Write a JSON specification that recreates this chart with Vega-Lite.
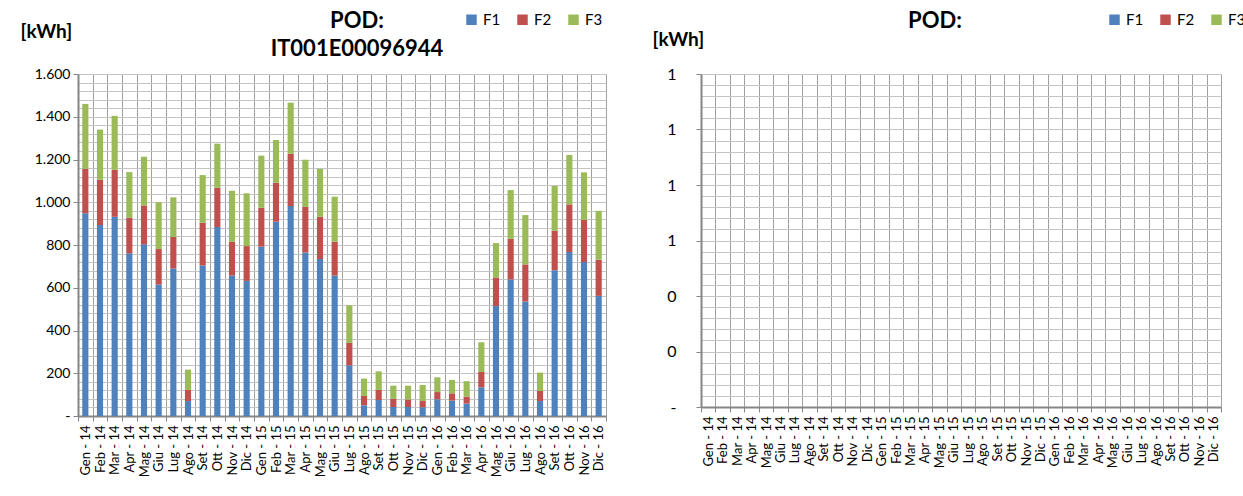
{
  "$schema": "https://vega.github.io/schema/vega-lite/v6.json",
  "background": "white",
  "padding": {"left": 20, "top": 10, "right": 0, "bottom": 0},
  "bounds": "flush",
  "spacing": 95,
  "config": {
    "font": "Lato",
    "view": {"stroke": null},
    "axis": {"labelColor": "#000000", "titleColor": "#000000"},
    "legend": {"labelColor": "#000000"}
  },
  "datasets": {
    "pod1": [
      {"mese": "Gen - 14", "F1": 948, "F2": 208, "F3": 304},
      {"mese": "Feb - 14", "F1": 893, "F2": 212, "F3": 235},
      {"mese": "Mar - 14", "F1": 932, "F2": 220, "F3": 252},
      {"mese": "Apr - 14", "F1": 761, "F2": 166, "F3": 214},
      {"mese": "Mag - 14", "F1": 803, "F2": 182, "F3": 228},
      {"mese": "Giu - 14", "F1": 615, "F2": 166, "F3": 219},
      {"mese": "Lug - 14", "F1": 690, "F2": 148, "F3": 185},
      {"mese": "Ago - 14", "F1": 70, "F2": 52, "F3": 95},
      {"mese": "Set - 14", "F1": 704, "F2": 200, "F3": 223},
      {"mese": "Ott - 14", "F1": 884, "F2": 184, "F3": 206},
      {"mese": "Nov - 14", "F1": 657, "F2": 158, "F3": 239},
      {"mese": "Dic - 14", "F1": 632, "F2": 163, "F3": 247},
      {"mese": "Gen - 15", "F1": 792, "F2": 182, "F3": 244},
      {"mese": "Feb - 15", "F1": 909, "F2": 182, "F3": 200},
      {"mese": "Mar - 15", "F1": 982, "F2": 245, "F3": 239},
      {"mese": "Apr - 15", "F1": 765, "F2": 213, "F3": 221},
      {"mese": "Mag - 15", "F1": 734, "F2": 198, "F3": 224},
      {"mese": "Giu - 15", "F1": 657, "F2": 158, "F3": 211},
      {"mese": "Lug - 15", "F1": 237, "F2": 105, "F3": 176},
      {"mese": "Ago - 15", "F1": 50, "F2": 44, "F3": 81},
      {"mese": "Set - 15", "F1": 75, "F2": 47, "F3": 87},
      {"mese": "Ott - 15", "F1": 42, "F2": 38, "F3": 62},
      {"mese": "Nov - 15", "F1": 42, "F2": 35, "F3": 65},
      {"mese": "Dic - 15", "F1": 41, "F2": 29, "F3": 75},
      {"mese": "Gen - 16", "F1": 78, "F2": 34, "F3": 69},
      {"mese": "Feb - 16", "F1": 72, "F2": 34, "F3": 63},
      {"mese": "Mar - 16", "F1": 58, "F2": 33, "F3": 72},
      {"mese": "Apr - 16", "F1": 134, "F2": 72, "F3": 139},
      {"mese": "Mag - 16", "F1": 515, "F2": 133, "F3": 161},
      {"mese": "Giu - 16", "F1": 639, "F2": 190, "F3": 228},
      {"mese": "Lug - 16", "F1": 536, "F2": 173, "F3": 231},
      {"mese": "Ago - 16", "F1": 70, "F2": 47, "F3": 86},
      {"mese": "Set - 16", "F1": 682, "F2": 185, "F3": 209},
      {"mese": "Ott - 16", "F1": 767, "F2": 223, "F3": 231},
      {"mese": "Nov - 16", "F1": 720, "F2": 198, "F3": 222},
      {"mese": "Dic - 16", "F1": 562, "F2": 169, "F3": 229}
    ],
    "pod2": [
      {"mese": "Gen - 14", "F1": 0, "F2": 0, "F3": 0},
      {"mese": "Feb - 14", "F1": 0, "F2": 0, "F3": 0},
      {"mese": "Mar - 14", "F1": 0, "F2": 0, "F3": 0},
      {"mese": "Apr - 14", "F1": 0, "F2": 0, "F3": 0},
      {"mese": "Mag - 14", "F1": 0, "F2": 0, "F3": 0},
      {"mese": "Giu - 14", "F1": 0, "F2": 0, "F3": 0},
      {"mese": "Lug - 14", "F1": 0, "F2": 0, "F3": 0},
      {"mese": "Ago - 14", "F1": 0, "F2": 0, "F3": 0},
      {"mese": "Set - 14", "F1": 0, "F2": 0, "F3": 0},
      {"mese": "Ott - 14", "F1": 0, "F2": 0, "F3": 0},
      {"mese": "Nov - 14", "F1": 0, "F2": 0, "F3": 0},
      {"mese": "Dic - 14", "F1": 0, "F2": 0, "F3": 0},
      {"mese": "Gen - 15", "F1": 0, "F2": 0, "F3": 0},
      {"mese": "Feb - 15", "F1": 0, "F2": 0, "F3": 0},
      {"mese": "Mar - 15", "F1": 0, "F2": 0, "F3": 0},
      {"mese": "Apr - 15", "F1": 0, "F2": 0, "F3": 0},
      {"mese": "Mag - 15", "F1": 0, "F2": 0, "F3": 0},
      {"mese": "Giu - 15", "F1": 0, "F2": 0, "F3": 0},
      {"mese": "Lug - 15", "F1": 0, "F2": 0, "F3": 0},
      {"mese": "Ago - 15", "F1": 0, "F2": 0, "F3": 0},
      {"mese": "Set - 15", "F1": 0, "F2": 0, "F3": 0},
      {"mese": "Ott - 15", "F1": 0, "F2": 0, "F3": 0},
      {"mese": "Nov - 15", "F1": 0, "F2": 0, "F3": 0},
      {"mese": "Dic - 15", "F1": 0, "F2": 0, "F3": 0},
      {"mese": "Gen - 16", "F1": 0, "F2": 0, "F3": 0},
      {"mese": "Feb - 16", "F1": 0, "F2": 0, "F3": 0},
      {"mese": "Mar - 16", "F1": 0, "F2": 0, "F3": 0},
      {"mese": "Apr - 16", "F1": 0, "F2": 0, "F3": 0},
      {"mese": "Mag - 16", "F1": 0, "F2": 0, "F3": 0},
      {"mese": "Giu - 16", "F1": 0, "F2": 0, "F3": 0},
      {"mese": "Lug - 16", "F1": 0, "F2": 0, "F3": 0},
      {"mese": "Ago - 16", "F1": 0, "F2": 0, "F3": 0},
      {"mese": "Set - 16", "F1": 0, "F2": 0, "F3": 0},
      {"mese": "Ott - 16", "F1": 0, "F2": 0, "F3": 0},
      {"mese": "Nov - 16", "F1": 0, "F2": 0, "F3": 0},
      {"mese": "Dic - 16", "F1": 0, "F2": 0, "F3": 0}
    ]
  },
  "resolve": {
    "legend": {"color": "independent"},
    "scale": {"x": "independent", "y": "independent"}
  },
  "hconcat": [
    {
      "width": 528,
      "height": 342,
      "data": {"name": "pod1"},
      "transform": [{"fold": ["F1", "F2", "F3"], "as": ["fascia", "kWh"]}],
      "title": {
        "text": ["POD:", "IT001E00096944"],
        "fontSize": 22,
        "fontWeight": "bold",
        "lineHeight": 28,
        "anchor": "middle",
        "dx": 15,
        "dy": 63,
        "offset": 14
      },
      "mark": {"type": "bar", "width": {"band": 0.42}},
      "encoding": {
        "x": {
          "field": "mese",
          "type": "ordinal",
          "sort": null,
          "scale": {"paddingInner": 0, "paddingOuter": 0},
          "axis": {
            "title": null,
            "labelAngle": -90,
            "labelFontSize": 13,
            "labelPadding": 4,
            "tickBand": "extent",
            "grid": true,
            "gridColor": "#a0a0a0",
            "gridWidth": 1,
            "ticks": true,
            "tickColor": "#868686",
            "tickSize": 5,
            "domainColor": "#868686",
            "domainWidth": 2
          }
        },
        "y": {
          "field": "kWh",
          "type": "quantitative",
          "stack": "zero",
          "scale": {"domain": [0, 1600], "nice": false},
          "axis": {
            "values": [0, 40, 80, 120, 160, 200, 240, 280, 320, 360, 400, 440, 480, 520, 560, 600, 640, 680, 720, 760, 800, 840, 880, 920, 960, 1000, 1040, 1080, 1120, 1160, 1200, 1240, 1280, 1320, 1360, 1400, 1440, 1480, 1520, 1560, 1600],
            "labelExpr": "datum.value % 200 != 0 ? '' : (datum.value == 0 ? '-' : replace(format(datum.value, ',.0f'), ',', '.'))",
            "labelFontSize": 14,
            "labelPadding": 3,
            "labelBound": false,
            "grid": true,
            "gridColor": "#c4c4c4",
            "gridWidth": 1,
            "tickColor": "#868686",
            "tickSize": 5,
            "tickOpacity": {"condition": {"test": "datum.value % 200 == 0", "value": 1}, "value": 0},
            "domainColor": "#868686",
            "domainWidth": 2,
            "title": "[kWh]",
            "titleAngle": 0,
            "titleAlign": "left",
            "titleBaseline": "middle",
            "titleFontSize": 19,
            "titleFontWeight": "bold",
            "titleX": -58,
            "titleY": -43
          }
        },
        "color": {
          "field": "fascia",
          "type": "nominal",
          "scale": {"domain": ["F1", "F2", "F3"], "range": ["#4F81BD", "#C0504D", "#9BBB59"]},
          "legend": {
            "title": null,
            "orient": "none",
            "direction": "horizontal",
            "legendX": 386,
            "legendY": -62,
            "symbolType": "square",
            "symbolSize": 110,
            "symbolStrokeWidth": 0,
            "labelFontSize": 15,
            "labelOffset": 4,
            "columnPadding": 14
          }
        },
        "order": {"field": "fascia", "sort": "ascending"}
      }
    },
    {
      "width": 520,
      "height": 333,
      "data": {"name": "pod2"},
      "transform": [{"fold": ["F1", "F2", "F3"], "as": ["fascia", "kWh"]}],
      "title": {
        "text": "POD:",
        "fontSize": 22,
        "fontWeight": "bold",
        "anchor": "middle",
        "dx": -26,
        "dy": 63,
        "offset": 42
      },
      "mark": {"type": "bar", "width": {"band": 0.42}},
      "encoding": {
        "x": {
          "field": "mese",
          "type": "ordinal",
          "sort": null,
          "scale": {"paddingInner": 0, "paddingOuter": 0},
          "axis": {
            "title": null,
            "labelAngle": -90,
            "labelFontSize": 13,
            "labelPadding": 4,
            "tickBand": "extent",
            "grid": true,
            "gridColor": "#a0a0a0",
            "gridWidth": 1,
            "ticks": true,
            "tickColor": "#868686",
            "tickSize": 5,
            "domainColor": "#868686",
            "domainWidth": 2
          }
        },
        "y": {
          "field": "kWh",
          "type": "quantitative",
          "stack": "zero",
          "scale": {"domain": [0, 1.2], "nice": false},
          "axis": {
            "values": [0, 0.04, 0.08, 0.12, 0.16, 0.2, 0.24, 0.28, 0.32, 0.36, 0.4, 0.44, 0.48, 0.52, 0.56, 0.6, 0.64, 0.68, 0.72, 0.76, 0.8, 0.84, 0.88, 0.92, 0.96, 1, 1.04, 1.08, 1.12, 1.16, 1.2],
            "labelExpr": "round(datum.value * 100) % 20 != 0 ? '' : (datum.value == 0 ? '-' : format(datum.value, '.0f'))",
            "labelFontSize": 16,
            "labelPadding": 20,
            "labelBound": false,
            "grid": true,
            "gridColor": "#c4c4c4",
            "gridWidth": 1,
            "tickColor": "#868686",
            "tickSize": 5,
            "tickOpacity": {"condition": {"test": "round(datum.value * 100) % 20 == 0", "value": 1}, "value": 0},
            "domainColor": "#868686",
            "domainWidth": 2,
            "title": "[kWh]",
            "titleAngle": 0,
            "titleAlign": "left",
            "titleBaseline": "middle",
            "titleFontSize": 19,
            "titleFontWeight": "bold",
            "titleX": -49,
            "titleY": -35
          }
        },
        "color": {
          "field": "fascia",
          "type": "nominal",
          "scale": {"domain": ["F1", "F2", "F3"], "range": ["#4F81BD", "#C0504D", "#9BBB59"]},
          "legend": {
            "title": null,
            "orient": "none",
            "direction": "horizontal",
            "legendX": 406,
            "legendY": -62,
            "symbolType": "square",
            "symbolSize": 110,
            "symbolStrokeWidth": 0,
            "labelFontSize": 15,
            "labelOffset": 4,
            "columnPadding": 14
          }
        },
        "order": {"field": "fascia", "sort": "ascending"}
      }
    }
  ]
}
